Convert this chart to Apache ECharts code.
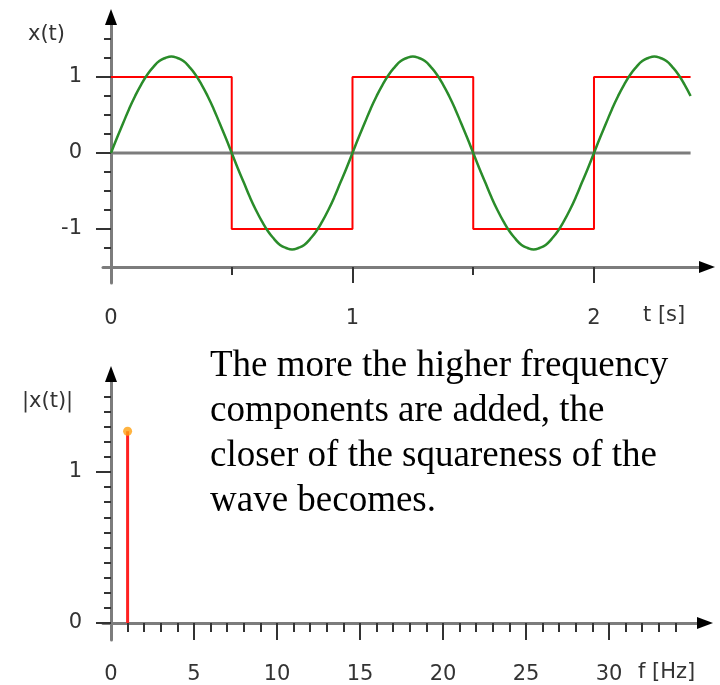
<!DOCTYPE html>
<html>
<head>
<meta charset="utf-8">
<script src="https://cdn.jsdelivr.net/npm/echarts@6/dist/echarts.min.js"></script>
<style>
	html, body { margin: 0; padding: 0; background: #fff; }
	#main { width: 720px; height: 685px; }
</style>
</head>
<body>
<div id="main"></div>
<script>
// time signal: square wave (red) and its first harmonic (green)
var squareT = [0, 0.5, 0.5, 1, 1, 1.5, 1.5, 2, 2, 2.4];
var squareX = [1, 1, -1, -1, 1, 1, -1, -1, 1, 1];
var sineT = [0, 0.025, 0.05, 0.075, 0.1, 0.125, 0.15, 0.175, 0.2, 0.225,
	0.25, 0.275, 0.3, 0.325, 0.35, 0.375, 0.4, 0.425, 0.45, 0.475,
	0.5, 0.525, 0.55, 0.575, 0.6, 0.625, 0.65, 0.675, 0.7, 0.725,
	0.75, 0.775, 0.8, 0.825, 0.85, 0.875, 0.9, 0.925, 0.95, 0.975,
	1, 1.025, 1.05, 1.075, 1.1, 1.125, 1.15, 1.175, 1.2, 1.225,
	1.25, 1.275, 1.3, 1.325, 1.35, 1.375, 1.4, 1.425, 1.45, 1.475,
	1.5, 1.525, 1.55, 1.575, 1.6, 1.625, 1.65, 1.675, 1.7, 1.725,
	1.75, 1.775, 1.8, 1.825, 1.85, 1.875, 1.9, 1.925, 1.95, 1.975,
	2, 2.025, 2.05, 2.075, 2.1, 2.125, 2.15, 2.175, 2.2, 2.225,
	2.25, 2.275, 2.3, 2.325, 2.35, 2.375, 2.4];
var sineX = [0, 0.2, 0.39, 0.58, 0.75, 0.9, 1.03, 1.13, 1.21, 1.25,
	1.27, 1.25, 1.21, 1.13, 1.03, 0.9, 0.75, 0.58, 0.39, 0.2,
	0, -0.2, -0.39, -0.58, -0.75, -0.9, -1.03, -1.13, -1.21, -1.25,
	-1.27, -1.25, -1.21, -1.13, -1.03, -0.9, -0.75, -0.58, -0.39, -0.2,
	0, 0.2, 0.39, 0.58, 0.75, 0.9, 1.03, 1.13, 1.21, 1.25,
	1.27, 1.25, 1.21, 1.13, 1.03, 0.9, 0.75, 0.58, 0.39, 0.2,
	0, -0.2, -0.39, -0.58, -0.75, -0.9, -1.03, -1.13, -1.21, -1.25,
	-1.27, -1.25, -1.21, -1.13, -1.03, -0.9, -0.75, -0.58, -0.39, -0.2,
	0, 0.2, 0.39, 0.58, 0.75, 0.9, 1.03, 1.13, 1.21, 1.25,
	1.27, 1.25, 1.21, 1.13, 1.03, 0.9, 0.75];
var baseT = [0, 2.4];
var baseX = [0, 0];

// spectrum
var specF = [1];
var specAmp = [1.27];

// ticks / labels
var tMajor = [1, 2];
var tMinor = [0.5, 1.5];
var tLabels = [0, 1, 2];
var xMajor = [-1, 0, 1];
var xMinor = [-1.25, -0.75, -0.5, -0.25, 0.25, 0.5, 0.75, 1.25, 1.5];
var xLabels = [-1, 0, 1];
var fMajor = [5, 10, 15, 20, 25, 30];
var fMinor = [1, 2, 3, 4, 6, 7, 8, 9, 11, 12, 13, 14, 16, 17, 18, 19,
	21, 22, 23, 24, 26, 27, 28, 29, 31, 32, 33, 34];
var fLabels = [0, 5, 10, 15, 20, 25, 30];
var aMajor = [0, 1];
var aMinor = [0.1, 0.2, 0.3, 0.4, 0.5, 0.6, 0.7, 0.8, 0.9, 1.1, 1.2, 1.3, 1.4, 1.5];
var aLabels = [0, 1];

var text = 'The more the higher frequency\ncomponents are added, the\ncloser of the squareness of the\nwave becomes.';

function pairs(a, b){
	return a.map(function(v, i){ return [v, b[i]]; });
}

var axisGray = '#7c7c7c';
var tickColor = '#333';
var labelFont = {fontFamily: 'DejaVu Sans', fontSize: 21, color: '#333'};

function mainX(grid, min, max, off, major, labels, len){
	return {
		type: 'value', gridIndex: grid, min: min, max: max, position: 'bottom', offset: off, z: 1,
		axisLine: {show: true, onZero: false, lineStyle: {color: axisGray, width: 3}},
		axisTick: {show: true, customValues: major, length: len, lineStyle: {color: tickColor, width: 2}},
		axisLabel: Object.assign({show: true, customValues: labels, margin: 41}, labelFont),
		splitLine: {show: false}
	};
}
function arrowX(grid, min, max, off, minor, len){
	return {
		type: 'value', gridIndex: grid, min: min, max: max, position: 'bottom', offset: off, z: 3,
		axisLine: {show: true, onZero: false, symbol: ['none', 'triangle'], symbolSize: [12, 16],
			lineStyle: {color: '#000', width: 0}},
		axisTick: {show: true, customValues: minor, length: len, lineStyle: {color: tickColor, width: 2}},
		axisLabel: {show: false},
		splitLine: {show: false}
	};
}
function mainY(grid, min, max, zeroIdx, major, labels, margin){
	return {
		type: 'value', gridIndex: grid, min: min, max: max, position: 'left', z: 1,
		axisLine: {show: true, onZero: true, onZeroAxisIndex: zeroIdx, lineStyle: {color: axisGray, width: 3}},
		axisTick: {show: true, customValues: major, length: 15, lineStyle: {color: tickColor, width: 2}},
		axisLabel: Object.assign({show: true, customValues: labels, margin: margin}, labelFont),
		splitLine: {show: false}
	};
}
function arrowY(grid, min, max, zeroIdx, minor){
	return {
		type: 'value', gridIndex: grid, min: min, max: max, position: 'left', z: 3,
		axisLine: {show: true, onZero: true, onZeroAxisIndex: zeroIdx, symbol: ['none', 'triangle'], symbolSize: [12, 16],
			lineStyle: {color: '#000', width: 0}},
		axisTick: {show: true, customValues: minor, length: 7, lineStyle: {color: tickColor, width: 2}},
		axisLabel: {show: false},
		splitLine: {show: false}
	};
}

var myChart = echarts.init(document.getElementById('main'));
var option = {
	backgroundColor: '#fff',
	animation: false,
	grid: [
		{left: 103, top: 17, width: 604, height: 266},
		{left: 103, top: 374, width: 602, height: 266}
	],
	xAxis: [
		mainX(0, -0.0331, 2.468, -16, tMajor, tLabels, 16),
		arrowX(0, -0.0331, 2.468, -16, tMinor, 8),
		mainX(1, -0.482, 35.78, -17, fMajor, fLabels, 17),
		arrowX(1, -0.482, 35.78, -17, fMinor, 9)
	],
	yAxis: [
		mainY(0, -1.711, 1.789, 0, xMajor, xLabels, 21),
		arrowY(0, -1.711, 1.789, 0, xMinor),
		mainY(1, -0.1126, 1.649, 2, aMajor, aLabels, 21),
		arrowY(1, -0.1126, 1.649, 2, aMinor)
	],
	graphic: [
		{type: 'text', left: 28, top: 24, style: {text: 'x(t)', font: '21px "DejaVu Sans"', fill: '#333'}},
		{type: 'text', left: 643, top: 305, style: {text: 't [s]', font: '21px "DejaVu Sans"', fill: '#333'}},
		{type: 'text', left: 22, top: 391, style: {text: '|x(t)|', font: '21px "DejaVu Sans"', fill: '#333'}},
		{type: 'text', left: 638, top: 662, style: {text: 'f [Hz]', font: '21px "DejaVu Sans"', fill: '#333'}},
		{type: 'text', left: 210, top: 344, style: {text: text, font: '37px "Liberation Serif"', lineHeight: 45, fill: '#000'}}
	],
	series: [
		{
			name: 'zero', type: 'line', xAxisIndex: 0, yAxisIndex: 0,
			data: pairs(baseT, baseX), showSymbol: false, silent: true,
			lineStyle: {color: axisGray, width: 3}, z: 1
		},
		{
			name: 'square', type: 'line', xAxisIndex: 0, yAxisIndex: 0,
			data: pairs(squareT, squareX), showSymbol: false,
			lineStyle: {color: '#ff0000', width: 2}, z: 2
		},
		{
			name: 'sine', type: 'line', xAxisIndex: 0, yAxisIndex: 0,
			data: pairs(sineT, sineX), showSymbol: false, smooth: true,
			lineStyle: {color: '#2a8c2a', width: 2.5}, z: 3
		},
		{
			name: 'stem', type: 'bar', xAxisIndex: 2, yAxisIndex: 2,
			data: pairs(specF, specAmp), barWidth: 3,
			itemStyle: {color: '#ff2020'}, z: 2
		},
		{
			name: 'peak', type: 'scatter', xAxisIndex: 2, yAxisIndex: 2,
			data: pairs(specF, specAmp), symbolSize: 9,
			itemStyle: {color: '#ffa010'}, z: 4
		}
	]
};
myChart.setOption(option);
</script>
</body>
</html>
